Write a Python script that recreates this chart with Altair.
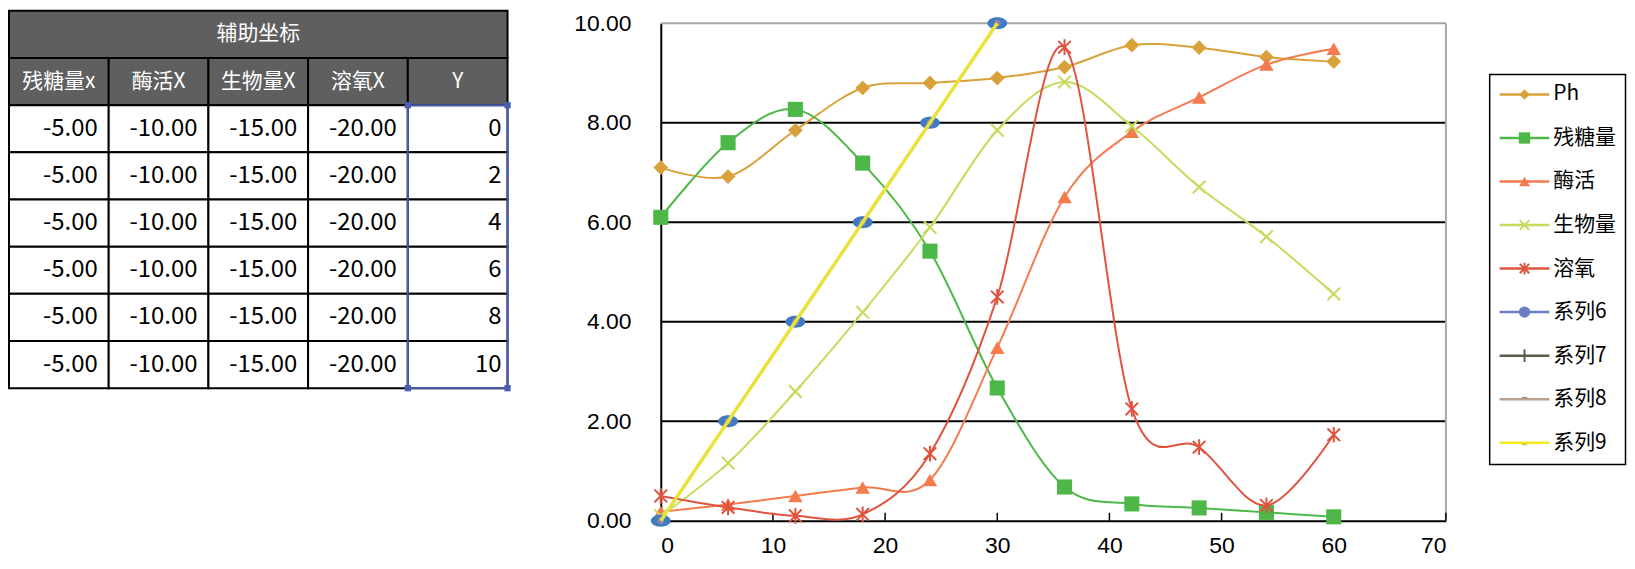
import altair as alt
import pandas as pd

# ---------------- data ----------------
table_title = "辅助坐标"
table_headers = ["残糖量x", "酶活X", "生物量X", "溶氧X", "Y"]
aux_sugar_x = [-5.00, -5.00, -5.00, -5.00, -5.00, -5.00]
aux_enzyme_x = [-10.00, -10.00, -10.00, -10.00, -10.00, -10.00]
aux_biomass_x = [-15.00, -15.00, -15.00, -15.00, -15.00, -15.00]
aux_oxygen_x = [-20.00, -20.00, -20.00, -20.00, -20.00, -20.00]
aux_y = [0, 2, 4, 6, 8, 10]

times = [0, 6, 12, 18, 24, 30, 36, 42, 48, 54, 60]
ph = [7.10, 6.92, 7.85, 8.70, 8.80, 8.90, 9.12, 9.56, 9.51, 9.32, 9.23]
sugar = [6.10, 7.60, 8.27, 7.19, 5.42, 2.67, 0.68, 0.34, 0.26, 0.17, 0.08]
enzyme = [0.18, 0.33, 0.50, 0.67, 0.82, 3.48, 6.51, 7.82, 8.51, 9.17, 9.49]
biomass = [0.10, 1.16, 2.60, 4.19, 5.90, 7.85, 8.82, 7.93, 6.71, 5.71, 4.56]
oxygen = [0.50, 0.27, 0.10, 0.13, 1.35, 4.50, 9.52, 2.25, 1.48, 0.31, 1.73]
aux_t = [0, 6, 12, 18, 24, 30]

series_names = ["Ph", "残糖量", "酶活", "生物量", "溶氧"]
series_colors = ["#D9A13A", "#4DB847", "#F47B4E", "#C3DC5B", "#E0533F"]
legend_names = ["Ph", "残糖量", "酶活", "生物量", "溶氧", "系列6", "系列7", "系列8", "系列9"]
legend_colors = ["#D9A13A", "#4DB847", "#F47B4E", "#C3DC5B", "#E0533F",
                 "#6C7EC6", "#5B5B4B", "#B8A08C", "#F2EA1C"]
x_ticks = [0, 10, 20, 30, 40, 50, 60, 70]
y_ticks = [0, 2, 4, 6, 8, 10]
grid_vals = [2, 4, 6, 8]

FONT = "Noto Sans CJK SC"
AXFONT = "Liberation Sans"

# ---------------- layout constants ----------------
W_T, W_C, W_L = 655, 789, 181
H = 500
P_TOP = 21.5        # page y of plot tops
T0 = 9              # page y of table top
ROWH, COLW = 47.4, 100.2
LEG_Y0, LEG_STEP = 93, 43.75
NO_VIEW = alt.ViewBackground(stroke=None, strokeWidth=0, fillOpacity=0)

# ---------------- table panel ----------------
xs_t = alt.Scale(domain=[0, W_T / COLW], nice=False, zero=False)
ys_t = alt.Scale(domain=[(P_TOP - T0) / ROWH, (P_TOP + H - T0) / ROWH],
                 reverse=True, nice=False, zero=False)

cells = [{"c0": 0, "c1": 5, "r0": 0, "r1": 1, "f": "#5F5F5F"}]
for i in range(5):
    cells.append({"c0": i, "c1": i + 1, "r0": 1, "r1": 2, "f": "#5F5F5F"})
for j in range(6):
    for i in range(5):
        cells.append({"c0": i, "c1": i + 1, "r0": 2 + j, "r1": 3 + j, "f": "#FFFFFF"})
cells_df = pd.DataFrame(cells)

rects = alt.Chart(cells_df).mark_rect(stroke="black", strokeWidth=2).encode(
    x=alt.X("c0:Q", scale=xs_t, axis=None),
    x2="c1:Q",
    y=alt.Y("r0:Q", scale=ys_t, axis=None),
    y2="r1:Q",
    color=alt.Color("f:N", scale=None),
)

head_text = pd.DataFrame(
    [{"x": 2.5, "y": 0.5, "t": table_title}] +
    [{"x": i + 0.5, "y": 1.5, "t": h} for i, h in enumerate(table_headers)])
head_layer = alt.Chart(head_text).mark_text(
    color="white", font=FONT, fontSize=21, align="center", baseline="middle").encode(
    x=alt.X("x:Q", scale=xs_t, axis=None),
    y=alt.Y("y:Q", scale=ys_t, axis=None),
    text="t:N")

num_rows = []
for ci, col in enumerate([aux_sugar_x, aux_enzyme_x, aux_biomass_x, aux_oxygen_x]):
    for j, v in enumerate(col):
        num_rows.append({"x": ci + 1, "y": 2.5 + j, "t": f"{v:.2f}"})
num_layer = alt.Chart(pd.DataFrame(num_rows)).mark_text(
    color="black", font=FONT, fontSize=24, align="right", baseline="middle", dx=-11).encode(
    x=alt.X("x:Q", scale=xs_t, axis=None),
    y=alt.Y("y:Q", scale=ys_t, axis=None),
    text="t:N")
ycol_layer = alt.Chart(pd.DataFrame(
    [{"x": 5, "y": 2.5 + j, "t": str(v)} for j, v in enumerate(aux_y)])).mark_text(
    color="black", font=FONT, fontSize=24, align="right", baseline="middle", dx=-6).encode(
    x=alt.X("x:Q", scale=xs_t, axis=None),
    y=alt.Y("y:Q", scale=ys_t, axis=None),
    text="t:N")

sel_df = pd.DataFrame([{"c0": 4, "c1": 5, "r0": 2, "r1": 8}])
sel_layer = alt.Chart(sel_df).mark_rect(fillOpacity=0, stroke="#4A5DB0", strokeWidth=2).encode(
    x=alt.X("c0:Q", scale=xs_t, axis=None), x2="c1:Q",
    y=alt.Y("r0:Q", scale=ys_t, axis=None), y2="r1:Q")
handles = pd.DataFrame({"x": [4, 5, 4, 5], "y": [2, 2, 8, 8]})
handle_layer = alt.Chart(handles).mark_square(size=40, color="#4A5DB0", opacity=1).encode(
    x=alt.X("x:Q", scale=xs_t, axis=None),
    y=alt.Y("y:Q", scale=ys_t, axis=None))

table = alt.layer(rects, head_layer, num_layer, ycol_layer, sel_layer, handle_layer).properties(
    width=W_T, height=H, view=NO_VIEW)

# ---------------- line chart panel ----------------
xs = alt.Scale(domain=[0, 70], nice=False, zero=False)
ys = alt.Scale(domain=[0, 10], nice=False, zero=False)
XAX = alt.Axis(values=x_ticks, title=None, grid=False, ticks=False, labelFontSize=23,
               labelFont=AXFONT, labelColor="black", domainColor="black", domainWidth=2,
               labelPadding=14)
YAX = alt.Axis(values=y_ticks, title=None, grid=False, ticks=False, labelFontSize=23,
               labelFont=AXFONT, labelColor="black", domainColor="black", domainWidth=2,
               labelPadding=30, format=".2f")

def X(f):
    return alt.X(f, scale=xs, axis=XAX)

def Y(f):
    return alt.Y(f, scale=ys, axis=YAX)

grid_df = pd.DataFrame({"g": grid_vals, "a": 0, "b": 70})
grid_layer = alt.Chart(grid_df).mark_rule(color="black", strokeWidth=2).encode(
    y=Y("g:Q"), x=X("a:Q"), x2="b:Q")
top_df = pd.DataFrame({"g": [10], "a": [0], "b": [70]})
top_layer = alt.Chart(top_df).mark_rule(color="#A6A6A6", strokeWidth=2).encode(
    y=Y("g:Q"), x=X("a:Q"), x2="b:Q")
right_df = pd.DataFrame({"x": [70], "a": [0], "b": [10]})
right_layer = alt.Chart(right_df).mark_rule(color="#A6A6A6", strokeWidth=2).encode(
    x=X("x:Q"), y=Y("a:Q"), y2="b:Q")
tick_df = pd.DataFrame({"x": x_ticks[1:], "a": 0, "b": 0.16})
tick_layer = alt.Chart(tick_df).mark_rule(color="black", strokeWidth=1.5).encode(
    x=X("x:Q"), y=Y("a:Q"), y2="b:Q")

X_PATH = "M-1,-1L1,1M-1,1L1,-1"
STAR_PATH = "M-1,-1L1,1M-1,1L1,-1M0,-1.25L0,1.25"
ELL_PATH = "M-1,0A1,0.6,0,1,1,1,0A1,0.6,0,1,1,-1,0Z"

marker_specs = [("diamond", 220, True), ("square", 230, True), ("triangle-up", 210, True),
                (X_PATH, 160, False), (STAR_PATH, 160, False)]

series_layers = []
for name, vals, col, (shape, size, filled) in zip(
        series_names, [ph, sugar, enzyme, biomass, oxygen], series_colors, marker_specs):
    d = pd.DataFrame({"t": times, "v": vals})
    base = alt.Chart(d)
    series_layers.append(base.mark_line(interpolate="cardinal", strokeWidth=2, color=col).encode(
        x=X("t:Q"), y=Y("v:Q")))
    series_layers.append(base.mark_point(shape=shape, size=size, filled=filled, opacity=1,
                                         color=col, strokeWidth=2).encode(
        x=X("t:Q"), y=Y("v:Q")))

aux_df = pd.DataFrame({"t": aux_t, "v": aux_y})
aux_ell = alt.Chart(aux_df).mark_point(shape=ELL_PATH, size=400, filled=True, opacity=1,
                                       color="#3F7AC2").encode(x=X("t:Q"), y=Y("v:Q"))
aux_ctr = alt.Chart(aux_df).mark_point(shape="circle", size=45, filled=True, opacity=1,
                                       color="#8C86A8").encode(x=X("t:Q"), y=Y("v:Q"))
aux_line = alt.Chart(aux_df).mark_line(color="#E8E23A", strokeWidth=3.5).encode(
    x=X("t:Q"), y=Y("v:Q"))

chart = alt.layer(grid_layer, top_layer, right_layer, tick_layer, *series_layers,
                  aux_ell, aux_ctr, aux_line).properties(width=W_C, height=H, view=NO_VIEW)

# ---------------- legend panel ----------------
xs_l = alt.Scale(domain=[0, W_L], nice=False, zero=False)
ys_l = alt.Scale(domain=[(P_TOP - LEG_Y0) / LEG_STEP, (P_TOP + H - LEG_Y0) / LEG_STEP],
                 reverse=True, nice=False, zero=False)

box_df = pd.DataFrame([{"a": 44, "b": 180.5, "c": -0.457, "d": 8.503}])
box_layer = alt.Chart(box_df).mark_rect(fill="white", stroke="black", strokeWidth=1.5).encode(
    x=alt.X("a:Q", scale=xs_l, axis=None), x2="b:Q",
    y=alt.Y("c:Q", scale=ys_l, axis=None), y2="d:Q")

leg_df = pd.DataFrame({"i": list(range(9)), "n": legend_names, "c": legend_colors,
                       "a": 54, "b": 104, "m": 79, "tx": 108})
leg_lines = alt.Chart(leg_df).mark_rule(strokeWidth=2.5).encode(
    x=alt.X("a:Q", scale=xs_l, axis=None), x2="b:Q",
    y=alt.Y("i:Q", scale=ys_l, axis=None), color=alt.Color("c:N", scale=None))
leg_text = alt.Chart(leg_df).mark_text(font=FONT, fontSize=21, align="left",
                                       baseline="middle", color="black").encode(
    x=alt.X("tx:Q", scale=xs_l, axis=None),
    y=alt.Y("i:Q", scale=ys_l, axis=None), text="n:N")

def lmark(idx, shape, size, filled, color, sw=2):
    d = leg_df[leg_df["i"] == idx]
    return alt.Chart(d).mark_point(shape=shape, size=size, filled=filled, opacity=1,
                                   color=color, strokeWidth=sw).encode(
        x=alt.X("m:Q", scale=xs_l, axis=None),
        y=alt.Y("i:Q", scale=ys_l, axis=None))

leg_marks = [
    lmark(0, "diamond", 110, True, legend_colors[0]),
    lmark(1, "square", 130, True, legend_colors[1]),
    lmark(2, "triangle-up", 120, True, legend_colors[2]),
    lmark(3, X_PATH, 90, False, legend_colors[3]),
    lmark(4, STAR_PATH, 90, False, legend_colors[4]),
    lmark(5, "circle", 130, True, legend_colors[5]),
    lmark(6, "M0,-1L0,1", 160, False, legend_colors[6], 2),
    lmark(7, "M-0.6,-0.35L0.6,-0.35", 80, False, "#9C8A7A", 1.5),
    lmark(8, "M-0.6,0.35L0.6,0.35", 80, False, "#D8C820", 2),
]

legend = alt.layer(box_layer, leg_lines, *leg_marks, leg_text).properties(
    width=W_L, height=H, view=NO_VIEW)

final = alt.hconcat(table, chart, legend, spacing=0, bounds="flush", padding=0).configure_view(
    stroke=None, strokeWidth=0).configure(background="white")

final.save("out.html", embed_options={"renderer": "svg", "actions": False})
